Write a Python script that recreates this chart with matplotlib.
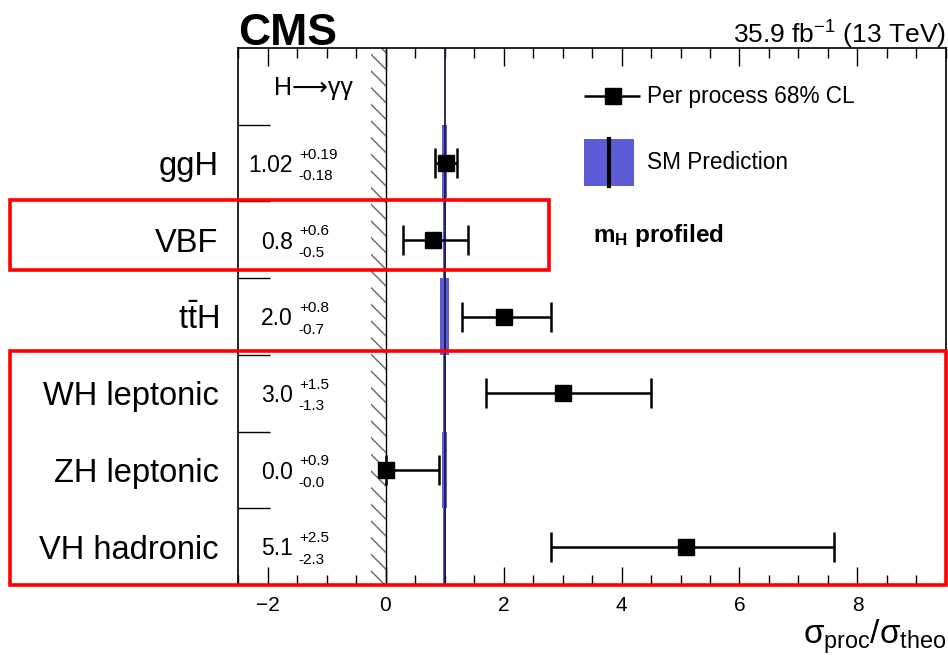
import numpy as np
import matplotlib.pyplot as plt
from matplotlib.patches import Rectangle

plt.rcParams['font.family'] = ['Liberation Sans', 'DejaVu Sans']
plt.rcParams['mathtext.fontset'] = 'custom'
plt.rcParams['mathtext.rm'] = 'Liberation Sans'
plt.rcParams['mathtext.it'] = 'Liberation Sans'
plt.rcParams['mathtext.bf'] = 'Liberation Sans:bold'

# ----------------------------
# Data (top row first)
# ----------------------------
processes = ["ggH", "VBF", r"$\mathregular{t\bar{t}H}$",
             "WH leptonic", "ZH leptonic", "VH hadronic"]
mu = [1.02, 0.8, 2.0, 3.0, 0.0, 5.1]
err_up = [0.19, 0.6, 0.8, 1.5, 0.9, 2.5]
err_dn = [0.18, 0.5, 0.7, 1.3, 0.0, 2.3]
mu_text = ["1.02", "0.8", "2.0", "3.0", "0.0", "5.1"]
up_text = ["+0.19", "+0.6", "+0.8", "+1.5", "+0.9", "+2.5"]
dn_text = ["-0.18", "-0.5", "-0.7", "-1.3", "-0.0", "-2.3"]
sm_unc = [0.045, 0.02, 0.08, 0.02, 0.035, 0.03]

n = len(processes)
ycent = np.arange(n)[::-1] + 0.5  # rows 5.5 ... 0.5

fig = plt.figure(figsize=(9.48, 6.57), dpi=100)
ax = fig.add_axes([238/948, 1-585/657, 708/948, 537/657])
ax.set_xlim(-2.5, 9.5)
ax.set_ylim(0, n + 1)

# SM bands per row and SM line
for yc, u in zip(ycent, sm_unc):
    ax.fill_betweenx([yc - 0.5, yc + 0.5], 1 - u, 1 + u,
                     color="#5c5cd6", lw=0, zorder=1)
ax.axvline(1, color="#1b1b4a", lw=1.3, zorder=2)

# physical boundary hatch
ax.fill_betweenx([0, n + 1], -0.25, 0, facecolor="none",
                 edgecolor="#666666", hatch="\\\\", lw=0, zorder=1)
ax.axvline(0, color="black", lw=1.0, zorder=2)

# measured points
ax.errorbar(mu, ycent, xerr=[err_dn, err_up], fmt="s", color="black",
            ms=12, capsize=11, elinewidth=1.8, capthick=1.8, zorder=5)

# value labels inside the frame
for yc, m, u, d in zip(ycent, mu_text, up_text, dn_text):
    ax.text(-1.57, yc - 0.03, m, ha="right", va="center", fontsize=16.5)
    ax.text(-1.47, yc + 0.11, u, ha="left", va="center", fontsize=11)
    ax.text(-1.47, yc - 0.17, d, ha="left", va="center", fontsize=11)

ax.text(-1.22, 6.48, "H\u27f6\u03b3\u03b3", ha="center",
        va="center", fontsize=18)

# legend drawn by hand
ax.errorbar([3.85], [6.37], xerr=[[0.49], [0.47]], fmt="s", color="black",
            ms=11, elinewidth=1.8, capsize=0)
ax.text(4.44, 6.37, "Per process 68% CL", va="center", fontsize=16.3)
ax.add_patch(Rectangle((3.36, 5.2), 0.86, 0.62, facecolor="#5c5cd6",
                       edgecolor="none"))
ax.plot([3.79, 3.79], [5.2, 5.82], color="black", lw=3)
ax.text(4.44, 5.51, "SM Prediction", va="center", fontsize=16.3)
ax.text(3.52, 4.56, r"$\mathbf{m_{H}}$ profiled", va="center",
        fontsize=17.5, fontweight="bold")

# ticks
ax.set_xticks(np.arange(-2, 9, 2))
ax.set_xticks(np.arange(-2.5, 9.6, 0.5), minor=True)
ax.set_xticklabels(["\u22122", "0", "2", "4", "6", "8"])
ax.tick_params(axis="x", which="major", direction="in", length=13, width=1,
               top=True, labelsize=15, pad=8)
ax.tick_params(axis="x", which="minor", direction="in", length=7, width=1,
               top=True)
ax.set_yticks(np.arange(1, n + 1))
ax.set_yticklabels([])
ax.set_yticks(ycent, minor=True)
ax.set_yticklabels(processes, minor=True)
ax.tick_params(axis="y", which="major", direction="in", length=23, width=1)
ax.tick_params(axis="y", which="minor", length=0, labelsize=23.5, pad=14)
for sp in ax.spines.values():
    sp.set_linewidth(1.2)

ax.set_xlabel(r"$\sigma_{\mathregular{proc}}/\sigma_{\mathregular{theo}}$",
              fontsize=24, loc="right", labelpad=2)

fig.text(238/948, 1-45/657, "CMS", fontsize=32, fontweight="bold",
         ha="left", va="baseline")
fig.text(946/948, 1-44/657, r"35.9 fb$^{-1}$ (13 TeV)", fontsize=19,
         ha="right", va="baseline")

# highlight boxes
fig.patches.append(Rectangle((10/948, 1-270/657), 539/948, 70/657,
                             transform=fig.transFigure, fill=False,
                             edgecolor="red", lw=2.6, zorder=10))
fig.patches.append(Rectangle((10/948, 1-585/657), 936/948, 234/657,
                             transform=fig.transFigure, fill=False,
                             edgecolor="red", lw=2.6, zorder=10))

fig.savefig("out.png", dpi=100, facecolor="white")
